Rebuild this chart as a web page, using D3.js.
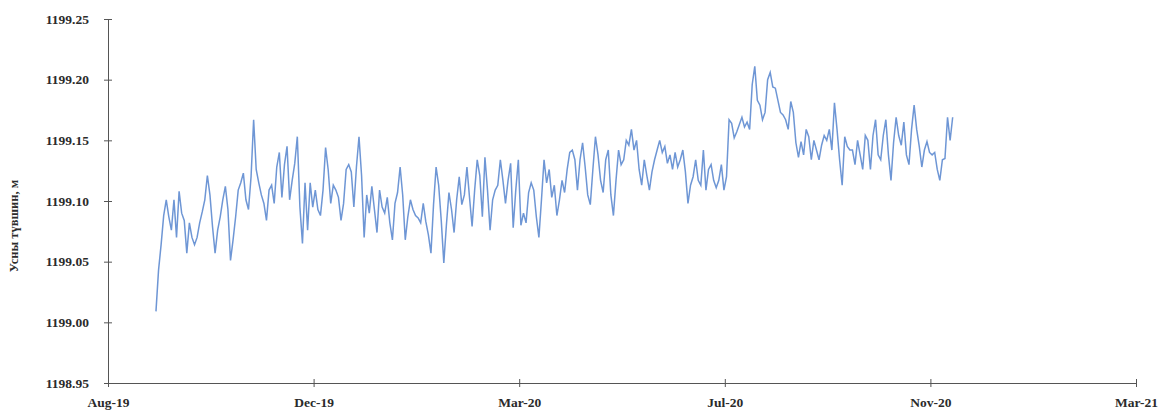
<!DOCTYPE html>
<html>
<head>
<meta charset="utf-8">
<script src="https://cdn.jsdelivr.net/npm/d3@7/dist/d3.min.js"></script>
<style>
  html, body { margin: 0; padding: 0; background: #ffffff; }
  svg { display: block; }
  .axis text { font-family: "Liberation Serif", "Times New Roman", serif; font-weight: 700; fill: #2b2b2b; }
</style>
</head>
<body>
<svg id="chart" width="1162" height="413"></svg>
<script>
// Water level readings, taken every 36 hours from 31 Aug 2019
const seriesStart = new Date(2019, 7, 31);
const stepHours = 36;
const waterLevel = [
  1199.009, 1199.043, 1199.064, 1199.088, 1199.101, 1199.087, 1199.076, 1199.101, 1199.070, 1199.108,
  1199.090, 1199.084, 1199.057, 1199.082, 1199.070, 1199.064, 1199.070, 1199.082, 1199.091, 1199.101,
  1199.121, 1199.105, 1199.079, 1199.057, 1199.076, 1199.087, 1199.101, 1199.112, 1199.093, 1199.051,
  1199.068, 1199.087, 1199.109, 1199.115, 1199.123, 1199.101, 1199.093, 1199.120, 1199.167, 1199.126,
  1199.115, 1199.105, 1199.098, 1199.084, 1199.109, 1199.113, 1199.098, 1199.128, 1199.140, 1199.103,
  1199.130, 1199.145, 1199.101, 1199.117, 1199.131, 1199.153, 1199.095, 1199.065, 1199.115, 1199.076,
  1199.115, 1199.095, 1199.109, 1199.093, 1199.088, 1199.109, 1199.144, 1199.126, 1199.098, 1199.113,
  1199.109, 1199.103, 1199.084, 1199.098, 1199.126, 1199.130, 1199.124, 1199.095, 1199.128, 1199.153,
  1199.121, 1199.070, 1199.105, 1199.090, 1199.112, 1199.093, 1199.074, 1199.109, 1199.095, 1199.090,
  1199.103, 1199.082, 1199.068, 1199.098, 1199.107, 1199.128, 1199.105, 1199.068, 1199.087, 1199.101,
  1199.093, 1199.088, 1199.086, 1199.082, 1199.098, 1199.083, 1199.072, 1199.057, 1199.097, 1199.128,
  1199.113, 1199.084, 1199.049, 1199.080, 1199.107, 1199.093, 1199.074, 1199.101, 1199.120, 1199.097,
  1199.105, 1199.128, 1199.103, 1199.079, 1199.109, 1199.134, 1199.121, 1199.087, 1199.136, 1199.109,
  1199.076, 1199.101, 1199.109, 1199.113, 1199.134, 1199.117, 1199.098, 1199.117, 1199.131, 1199.078,
  1199.109, 1199.134, 1199.080, 1199.090, 1199.082, 1199.107, 1199.115, 1199.109, 1199.087, 1199.070,
  1199.101, 1199.134, 1199.115, 1199.126, 1199.103, 1199.113, 1199.088, 1199.101, 1199.117, 1199.107,
  1199.126, 1199.140, 1199.142, 1199.134, 1199.109, 1199.134, 1199.148, 1199.128, 1199.105, 1199.097,
  1199.126, 1199.153, 1199.138, 1199.117, 1199.107, 1199.134, 1199.142, 1199.105, 1199.088, 1199.117,
  1199.142, 1199.130, 1199.134, 1199.150, 1199.146, 1199.159, 1199.142, 1199.150, 1199.126, 1199.113,
  1199.134, 1199.121, 1199.109, 1199.124, 1199.134, 1199.142, 1199.150, 1199.140, 1199.145, 1199.131,
  1199.138, 1199.126, 1199.140, 1199.128, 1199.134, 1199.142, 1199.124, 1199.098, 1199.113, 1199.120,
  1199.134, 1199.117, 1199.113, 1199.142, 1199.109, 1199.126, 1199.130, 1199.117, 1199.111, 1199.117,
  1199.130, 1199.109, 1199.120, 1199.167, 1199.164, 1199.152, 1199.157, 1199.163, 1199.169, 1199.161,
  1199.165, 1199.159, 1199.196, 1199.211, 1199.183, 1199.179, 1199.167, 1199.173, 1199.200, 1199.206,
  1199.194, 1199.193, 1199.183, 1199.173, 1199.171, 1199.167, 1199.159, 1199.182, 1199.173, 1199.148,
  1199.136, 1199.149, 1199.138, 1199.159, 1199.153, 1199.134, 1199.150, 1199.142, 1199.134, 1199.146,
  1199.154, 1199.150, 1199.159, 1199.142, 1199.181, 1199.159, 1199.134, 1199.113, 1199.153, 1199.145,
  1199.142, 1199.142, 1199.130, 1199.150, 1199.138, 1199.126, 1199.154, 1199.150, 1199.126, 1199.154,
  1199.167, 1199.138, 1199.134, 1199.154, 1199.167, 1199.138, 1199.117, 1199.148, 1199.169, 1199.154,
  1199.146, 1199.165, 1199.138, 1199.130, 1199.159, 1199.179, 1199.159, 1199.145, 1199.128, 1199.142,
  1199.149, 1199.140, 1199.138, 1199.140, 1199.126, 1199.117, 1199.134, 1199.135, 1199.169, 1199.150,
  1199.169
];

// Axis ticks
const xTickDates = [
  new Date(2019, 7, 3), new Date(2019, 11, 1), new Date(2020, 2, 30),
  new Date(2020, 6, 28), new Date(2020, 10, 25), new Date(2021, 2, 25)
];
const xTickLabels = ["Aug-19", "Dec-19", "Mar-20", "Jul-20", "Nov-20", "Mar-21"];
const yTicks = [1198.95, 1199.00, 1199.05, 1199.10, 1199.15, 1199.20, 1199.25];
const yTitle = "Усны түвшин, м";

const readings = waterLevel.map((v, i) => ({
  date: new Date(seriesStart.getTime() + i * stepHours * 3600 * 1000),
  value: v
}));

const svg = d3.select("#chart");
const plot = { left: 108, right: 1136, top: 19, bottom: 383 };

const x = d3.scaleTime()
  .domain([xTickDates[0], xTickDates[xTickDates.length - 1]])
  .range([plot.left, plot.right]);
const y = d3.scaleLinear()
  .domain([yTicks[0], yTicks[yTicks.length - 1]])
  .range([plot.bottom, plot.top]);

// Level trace
const line = d3.line()
  .x(d => x(d.date))
  .y(d => y(d.value));

svg.append("path")
  .datum(readings)
  .attr("fill", "none")
  .attr("stroke", "#5a87cf")
  .attr("stroke-width", 1.5)
  .attr("stroke-linejoin", "miter")
  .attr("opacity", 0.88)
  .attr("d", line);

// Y axis
const yAxis = svg.append("g")
  .attr("class", "axis")
  .attr("transform", `translate(${plot.left},0)`)
  .call(d3.axisLeft(y)
    .tickValues(yTicks)
    .tickFormat(d3.format(".2f"))
    .tickSizeInner(4)
    .tickSizeOuter(0)
    .tickPadding(15));
yAxis.selectAll(".tick line").attr("x1", 4).attr("x2", -4).attr("stroke", "#555");
yAxis.select(".domain").attr("stroke", "#555");
yAxis.selectAll(".tick text").style("font-size", "13.5px");

// X axis
const xAxis = svg.append("g")
  .attr("class", "axis")
  .attr("transform", `translate(0,${plot.bottom})`)
  .call(d3.axisBottom(x)
    .tickValues(xTickDates)
    .tickFormat((d, i) => xTickLabels[i])
    .tickSizeInner(4)
    .tickSizeOuter(0)
    .tickPadding(10));
xAxis.selectAll(".tick line").attr("y1", -4).attr("y2", 4).attr("stroke", "#555");
xAxis.select(".domain").attr("stroke", "#555");
xAxis.selectAll(".tick text").style("font-size", "13.5px");

// Y axis title
svg.append("text")
  .attr("transform", "translate(18,226) rotate(-90)")
  .attr("text-anchor", "middle")
  .style("font-family", "\"Liberation Serif\", \"Times New Roman\", serif")
  .style("font-weight", "700")
  .style("font-size", "12.5px")
  .style("fill", "#2b2b2b")
  .text(yTitle);
</script>
</body>
</html>
